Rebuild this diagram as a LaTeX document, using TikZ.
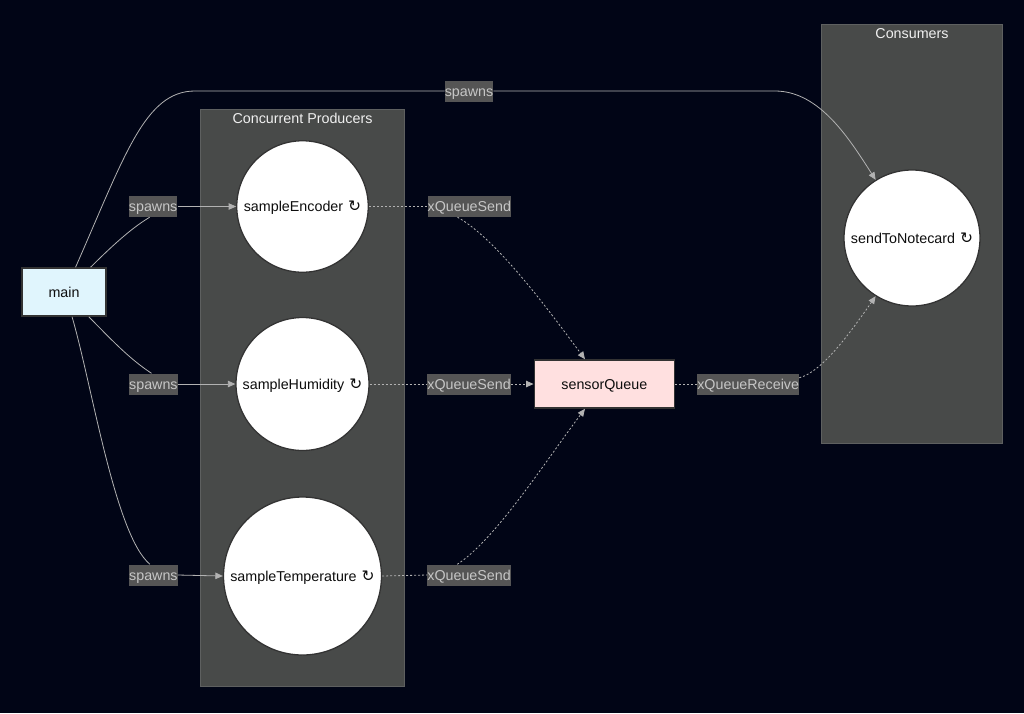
\documentclass[tikz,border=0pt]{standalone}
\usepackage{fontspec}
\setmainfont{Liberation Sans}
\newfontfamily\symfont{DejaVu Sans}
\usepackage{xcolor}
\usetikzlibrary{arrows.meta,positioning,fit,backgrounds,calc}
\definecolor{pagebg}{HTML}{010516}
\definecolor{grpfill}{HTML}{484A49}
\definecolor{grpline}{HTML}{5E6060}
\definecolor{lblfill}{HTML}{555555}
\definecolor{edgecol}{HTML}{C6C6C6}
\newcommand{\loopsym}{\kern5pt{\symfont\fontsize{15.5}{17}\selectfont ↻}}

\begin{document}
\begin{tikzpicture}[
  x=1pt,y=-1pt,
  font=\fontsize{14.3}{17}\selectfont,
  txt/.style  ={text height=13pt,text depth=3pt},
  task/.style ={txt,draw=black!80,line width=1.3pt,circle,fill=white,text=black!95,
                inner sep=0pt},
  box/.style  ={txt,draw=black!80,line width=1.6pt,rectangle,text=black!95,inner sep=0pt},
  grp/.style  ={draw=grpline,line width=1pt,fill=grpfill},
  ttl/.style  ={txt,text=white!94!black,inner sep=0pt,anchor=north},
  lbl/.style  ={txt,fill=lblfill,text=edgecol,inner sep=0pt,minimum height=21pt},
  link/.style ={draw=edgecol!90!black,line width=0.8pt},
  dot/.style  ={link,dash pattern=on 2pt off 2pt},
  >={Stealth[length=7.5pt,width=6.5pt,inset=0pt]}]

% ---------- Processes ----------
\node[box,fill=cyan!12!white,minimum width=84pt,minimum height=48pt] (main) at (64,292) {main};
\node[task,minimum size=131.5pt] (enc)  at (302.5,206.5) {sampleEncoder\loopsym};
\node[task,minimum size=133pt]   (hum)  at (302.5,384)   {sampleHumidity\loopsym};
\node[task,minimum size=158pt]   (temp) at (302.5,576)   {sampleTemperature\loopsym};
\node[task,minimum size=136pt]   (send) at (912,238)     {sendToNotecard\loopsym};

% ---------- Edge labels ----------
\node[lbl,left=58.5pt of enc]  (spawnenc)  {spawns};
\node[lbl,left=57.5pt of hum]  (spawnhum)  {spawns};
\node[lbl,left=45pt of temp,yshift=1pt] (spawntemp) {spawns};
\node[lbl] (spawnsend) at (469,91) {spawns};
\node[lbl,right=58.5pt of enc]  (sendenc)  {xQueueSend};
\node[lbl,right=57.5pt of hum]  (sendhum)  {xQueueSend};
\node[lbl,right=45pt of temp,yshift=1pt] (sendtemp) {xQueueSend};

\node[box,fill=red!12!white,minimum width=140pt,minimum height=48pt,right=22.5pt of sendhum] (queue) {sensorQueue};
\node[lbl,right=22pt of queue] (recv) {xQueueReceive};

% ---------- Clusters ----------
\begin{scope}[on background layer]
\fill[pagebg] (0,0) rectangle (1024,713);
\node[grp,inner xsep=22pt,inner ysep=31pt,fit=(enc)(hum)(temp)] (prod) {};
\node[grp,minimum width=181pt,minimum height=419pt] (cons) at (912,233.5) {};
\end{scope}
\node[ttl,yshift=-2pt] at (prod.north) {Concurrent Producers};
\node[ttl,yshift=-2pt] at (cons.north) {Consumers};

% ---------- Spawn edges ----------
\draw[link] (main.65) .. controls (125,155) and (145,91) .. (195,91) -- (spawnsend.west);
\draw[link,->] (spawnsend.east) -- (775,91) .. controls (820,91) and (850,140) .. (send.122);
\draw[link] (main.43) .. controls (110,248) and (130,229) .. (spawnenc.252);
\draw[link,->] (spawnenc.east) -- (enc.west);
\draw[link] (main.-45) .. controls (108,336) and (128,358) .. (spawnhum.100);
\draw[link,->] (spawnhum.east) -- (hum.west);
\draw[link] (main.-72) .. controls (92,385) and (115,535) .. (spawntemp.108);
\draw[link,->] (spawntemp.east) -- (temp.west);

% ---------- Queue edges ----------
\draw[dot] (enc.east) -- (sendenc.west);
\draw[dot] (hum.east) -- (sendhum.west);
\draw[dot] (temp.east) -- (sendtemp.west);
\draw[dot,->] (sendenc.222) .. controls (495,238) and (545,305) .. (queue.128);
\draw[dot,->] (sendhum.east) -- (queue.west);
\draw[dot,->] (sendtemp.138) .. controls (495,540) and (545,462) .. (queue.232);
\draw[dot] (queue.east) -- (recv.west);
\draw[dot,->] (recv.7) .. controls (822,372) and (850,333) .. (send.238);

\end{tikzpicture}
\end{document}
